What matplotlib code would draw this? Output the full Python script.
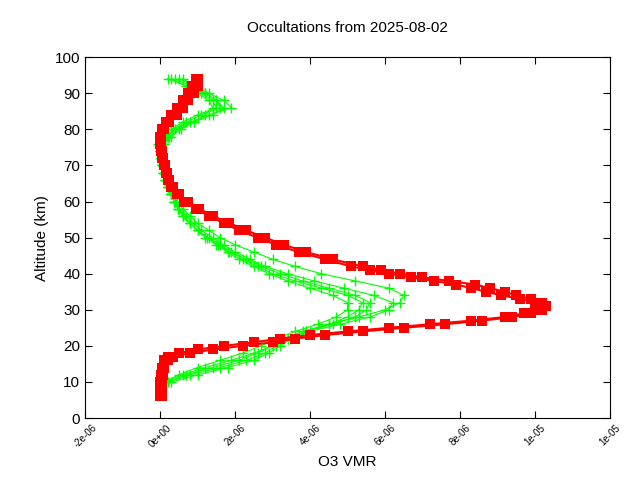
import matplotlib
matplotlib.use("Agg")
import matplotlib.pyplot as plt
import numpy as np

plt.rcParams["font.family"] = "Liberation Sans"

# red profiles (VMR in 1e-6)
red_alt = [6, 8, 10, 12, 14, 16, 17, 18, 19, 20, 21, 22, 23, 24, 25, 26, 27, 28, 29, 30,
           31, 32, 33, 34, 35, 36, 37, 38, 39, 40, 41, 42, 44, 46, 48, 50, 52, 54, 56, 58,
           60, 62, 64, 66, 68, 70, 72, 74, 76, 78, 80, 82, 84, 86, 88, 90, 92, 94]
red_a = [0.0, 0.0, 0.0, 0.02, 0.05, 0.1, 0.2, 0.5, 1.0, 1.7, 2.5, 3.2, 4.0, 5.0, 6.1, 7.2,
         8.3, 9.2, 9.7, 10.0, 10.2, 10.0, 9.6, 9.1, 8.7, 8.3, 7.9, 7.3, 6.7, 6.1, 5.6, 5.1,
         4.4, 3.7, 3.1, 2.6, 2.1, 1.7, 1.3, 0.95, 0.65, 0.45, 0.3, 0.2, 0.15, 0.1, 0.06,
         0.03, 0.0, 0.0, 0.05, 0.15, 0.3, 0.45, 0.6, 0.75, 0.85, 0.95]
red_b = [0.05, 0.05, 0.05, 0.08, 0.1, 0.2, 0.35, 0.8, 1.4, 2.2, 3.0, 3.6, 4.4, 5.4, 6.5,
         7.6, 8.6, 9.4, 9.9, 10.2, 10.3, 10.2, 9.9, 9.5, 9.2, 8.8, 8.4, 7.7, 7.0, 6.4, 5.9,
         5.4, 4.6, 3.9, 3.3, 2.8, 2.3, 1.85, 1.4, 1.05, 0.75, 0.5, 0.35, 0.25, 0.18, 0.12,
         0.08, 0.05, 0.02, 0.03, 0.1, 0.25, 0.45, 0.6, 0.75, 0.9, 1.0, 1.0]

# green profiles
green_alt = [10, 12, 14, 16, 18, 20, 22, 24, 26, 28, 30, 32, 34, 36, 38, 40, 42, 44, 46, 48,
             50, 52, 54, 56, 58, 60, 62, 64, 66, 68, 70, 72, 74, 76, 78, 80, 82, 84, 86, 88,
             90, 92, 94]
green_1 = [0.1, 0.6, 1.2, 1.9, 2.5, 3.0, 3.3, 3.8, 4.5, 5.3, 6.0, 6.4, 6.5, 6.1, 5.2, 4.3,
           3.6, 3.0, 2.5, 2.0, 1.6, 1.3, 1.0, 0.8, 0.6, 0.45, 0.35, 0.25, 0.18, 0.12, 0.08,
           0.05, 0.03, 0.05, 0.2, 0.4, 0.8, 1.3, 1.9, 1.7, 1.3, 0.9, 0.5]
green_2 = [0.2, 0.8, 1.6, 2.3, 2.8, 3.1, 3.4, 3.9, 4.6, 5.2, 5.5, 5.6, 5.2, 4.5, 3.8, 3.2,
           2.7, 2.3, 1.9, 1.6, 1.3, 1.0, 0.8, 0.6, 0.5, 0.4, 0.3, 0.22, 0.15, 0.1, 0.06,
           0.03, 0.0, -0.05, 0.15, 0.3, 0.6, 1.0, 1.5, 1.4, 1.1, 0.8, 0.4]
green_3 = [0.1, 0.5, 1.0, 1.6, 2.2, 2.7, 3.1, 3.6, 4.2, 4.7, 5.0, 5.0, 4.6, 4.0, 3.4, 2.9,
           2.5, 2.1, 1.8, 1.5, 1.2, 1.0, 0.8, 0.6, 0.48, 0.38, 0.28, 0.2, 0.14, 0.09, 0.05,
           0.02, 0.01, 0.1, 0.25, 0.5, 0.9, 1.4, 1.7, 1.5, 1.2, 0.9, 0.6]
green_4 = [0.3, 1.0, 1.8, 2.5, 2.9, 3.2, 3.5, 4.0, 4.8, 5.6, 6.1, 6.2, 5.7, 4.9, 4.1, 3.4,
           2.8, 2.4, 2.0, 1.7, 1.4, 1.1, 0.9, 0.7, 0.5, 0.4, 0.3, 0.2, 0.15, 0.1, 0.05, 0.02,
           0.0, 0.05, 0.2, 0.35, 0.7, 1.1, 1.6, 1.5, 1.2, 0.7, 0.3]
green_5 = [0.2, 0.7, 1.4, 2.1, 2.6, 3.0, 3.4, 3.9, 4.5, 5.0, 5.3, 5.4, 5.0, 4.3, 3.6, 3.0,
           2.6, 2.2, 1.85, 1.55, 1.25, 1.0, 0.8, 0.62, 0.48, 0.38, 0.28, 0.2, 0.14, 0.09,
           0.05, 0.03, 0.02, 0.1, 0.3, 0.55, 0.9, 1.2, 1.4, 1.3, 1.0, 0.7, 0.2]

tick_vals = [-2e-6, 0, 2e-6, 4e-6, 6e-6, 8e-6, 1e-5, 1e-5 + 2e-6]
tick_labels = ["-2e-06", "0e+00", "2e-06", "4e-06", "6e-06", "8e-06", "1e-05", "1e-05"]

fig = plt.figure(figsize=(6.4, 4.8), dpi=100)
ax = fig.add_axes([0.133, 0.129, 0.82, 0.752])

for g in (green_1, green_2, green_3, green_4, green_5):
    ax.plot(np.array(g) * 1e-6, green_alt, color="#00ff00", lw=0.8,
            marker="+", ms=7, mew=1)
for r in (red_a, red_b):
    ax.plot(np.array(r) * 1e-6, red_alt, color="#ff0000", lw=1.5,
            marker="s", ms=7, mew=0)

ax.set_xlim(-2e-6, 1.2e-5)
ax.set_ylim(0, 100)
ax.set_xticks(tick_vals[:-1] + [1.2e-5])
ax.set_xticklabels(tick_labels[:-1] + ["1e-05"], rotation=45, fontsize=7)
ax.set_yticks(range(0, 101, 10))
ax.tick_params(axis="y", labelsize=11)
ax.tick_params(direction="in", top=True, right=True, length=5)
ax.set_xlabel("O3 VMR", fontsize=11)
ax.set_ylabel("Altitude (km)", fontsize=11)
ax.set_title("Occultations from 2025-08-02", fontsize=11, pad=18)

fig.savefig("out.png", dpi=100)
